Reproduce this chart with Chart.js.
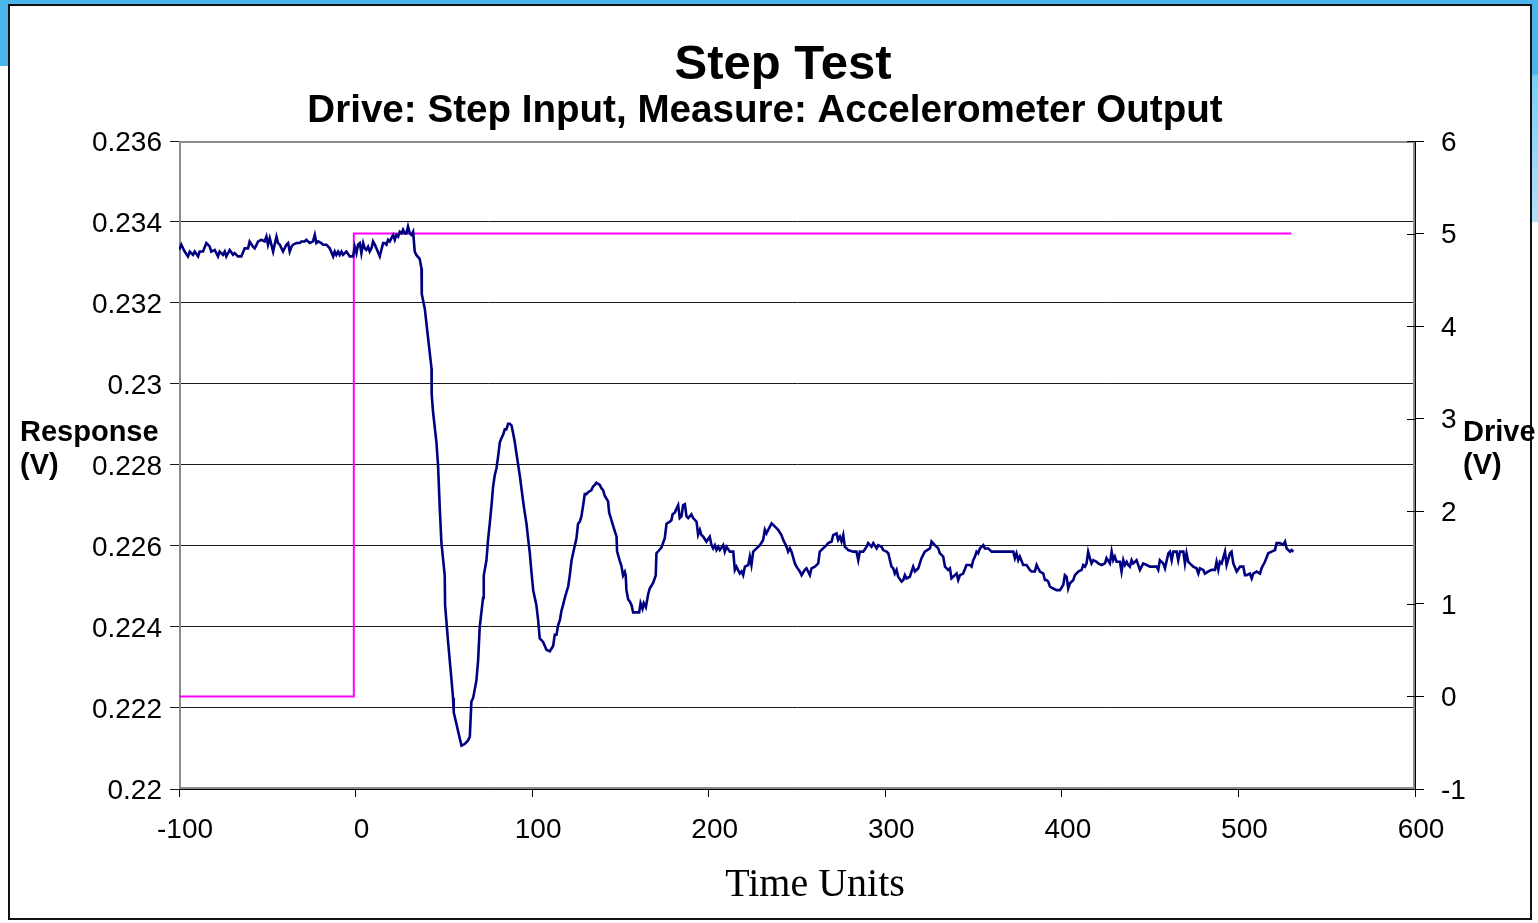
<!DOCTYPE html>
<html>
<head>
<meta charset="utf-8">
<script src="https://cdn.jsdelivr.net/npm/chart.js@4.4.1/dist/chart.umd.min.js"></script>
<style>
  html, body { margin: 0; padding: 0; background: #ffffff; width: 1538px; height: 923px; overflow: hidden; }
  .blue-top { position: absolute; left: 0; top: 0; width: 1538px; height: 5px; background: #4bb5ee; }
  .blue-left { position: absolute; left: 0; top: 0; width: 9px; height: 66px; background: #4bb5ee; }
  .blue-right { position: absolute; left: 1531px; top: 0; width: 7px; height: 222px;
    background: linear-gradient(#4bb5ee 0px, #4bb5ee 74px, #7ccbf5 76px, #b3e0fa 222px); }
  .frame { position: absolute; left: 8px; top: 4px; width: 1524px; height: 916px; box-sizing: border-box;
    border: 2px solid #111; background: #ffffff; }
  #c { position: absolute; left: 0; top: 0; }
</style>
</head>
<body>
<div class="blue-top"></div>
<div class="blue-left"></div>
<div class="blue-right"></div>
<div class="frame"></div>
<canvas id="c" width="1538" height="923"></canvas>
<script>
// ---- Data ----
const responseTime = [
  -100,-98.7,-96.8,-94.9,-93.9,-92.1,-91.1,-89.2,-88.3,-86.4,-84.5,-83.6,-82.6,-81.7,-79.8,-77.9,-77.0,-75.1,-74.1,-73.2,
  -71.3,-69.4,-68.5,-66.6,-64.7,-62.8,-60.9,-60.0,-58.1,-57.1,-55.2,-53.3,-51.5,-50.5,-49.6,-48.6,-46.7,-44.8,-43.9,-42.9,
  -41.1,-39.2,-38.2,-37.3,-36.3,-35.4,-33.5,-31.6,-30.7,-28.8,-27.9,-26.0,-24.1,-23.1,-22.2,-21.2,-19.4,-18.4,-16.5,-14.6,
  -12.7,-11.8,-10.9,-9.9,-9.0,-8.0,-7.1,-5.2,-3.3,-1.4,-0.5,0.5,1.4,2.4,3.3,4.3,5.2,6.1,7.1,8.0,
  9.0,9.9,10.9,11.8,13.7,14.6,15.6,16.5,17.5,18.4,19.4,20.3,21.3,22.2,23.1,24.1,25.0,26.0,26.9,27.9,
  28.8,29.7,30.7,31.6,32.6,
  33.5,34.5,36.3,37.3,37.5,39.2,41.1,43.0,43.1,43.9,45.8,46.7,47.7,48.6,50.5,50.7,52.4,54.3,55.2,55.6,
  57.1,59.0,60.0,61.8,63.7,64.7,65.6,66.6,68.4,69.4,70.3,72.2,72.6,74.1,75.1,76.0,77.0,77.9,78.8,79.8,
  80.7,81.7,82.6,83.6,84.5,85.4,86.4,87.3,88.3,89.2,90.2,91.1,92.1,93.0,94.9,95.8,96.8,97.7,98.7,99.6,
  100.6,101.5,102.4,103.4,104.3,106.2,108.1,110.0,111.9,112.8,113.8,114.7,115.7,116.6,117.5,118.5,120.4,121.3,122.3,123.2,
  124.1,125.1,126.0,127.0,127.9,128.9,129.8,130.8,131.7,133.6,134.5,135.5,136.4,138.3,139.3,140.2,141.1,143.0,143.6,144.9,
  146.8,147.8,148.1,149.6,150.6,151.5,152.5,153.0,153.4,154.4,155.3,156.3,157.2,159.1,160.6,161.4,162.5,163.2,164.4,165.7,
  166.6,168.5,170.0,170.4,171.4,173.2,175.1,176.1,178.0,178.9,179.5,180.8,182.7,183.6,184.6,185.5,186.5,187.4,188.4,190.2,
  191.2,193.1,194.0,
  195.0,195.9,196.9,198.7,200.6,201.6,202.5,203.5,204.4,205.4,206.3,208.2,209.1,210.1,212.0,213.9,214.8,215.7,217.6,218.6,
  219.5,220.5,222.4,223.3,224.2,225.2,227.1,229.0,230.8,231.8,232.7,233.7,235.6,236.5,238.4,239.3,241.2,242.2,243.1,244.1,
  245.0,246.0,246.9,248.8,249.7,251.6,252.6,254.4,255.4,257.3,258.2,260.1,262.0,262.9,264.8,266.7,267.7,269.6,270.5,272.4,
  273.3,274.3,275.2,276.2,277.1,278.1,279.0,281.8,283.7,284.7,285.6,287.5,289.4,290.3,292.2,293.2,295.1,296.0,297.9,298.8,
  300.7,301.7,303.5,304.5,305.4,306.4,307.3,309.2,310.2,311.1,312.0,313.9,315.8,316.8,318.7,320.5,322.4,325.3,326.2,328.1,
  330.0,330.9,332.8,333.8,335.6,336.6,337.5,339.4,340.4,341.3,342.3,344.1,346.0,347.9,348.9,349.8,350.8,351.7,352.6,353.6,
  355.5,356.4,358.3,360.2,
  372.5,373.4,374.3,375.3,376.2,378.1,380.0,381.9,382.8,384.7,385.7,386.6,387.6,389.5,390.4,391.3,392.3,393.2,395.1,397.0,
  398.9,400.8,401.7,402.7,403.6,404.6,406.5,407.4,409.3,411.2,412.1,413.1,414.0,414.9,415.9,416.8,417.8,419.7,420.6,422.5,
  424.4,425.3,427.2,428.2,429.1,430.0,431.0,432.9,433.8,434.8,435.7,436.7,437.6,438.5,439.5,440.4,441.4,442.3,444.2,446.1,
  448.0,449.9,453.7,454.6,455.5,457.4,458.4,460.3,461.2,462.2,463.1,465.0,465.9,466.9,468.8,469.7,470.6,471.6,472.5,474.4,
  476.3,477.3,478.2,480.1,481.0,482.9,484.8,486.7,487.6,488.6,489.5,490.5,492.4,493.3,495.2,496.1,497.1,499.0,500.9,502.8,
  503.7,504.6,506.5,507.5,508.4,510.3,512.2,513.1,515.0,516.9,518.8,520.7,521.6,523.5,525.4,526.4,527.3,529.2,530.1,531.1
];
const responseVolts = [
  0.23331,0.23344,0.23327,0.23315,0.23327,0.23319,0.23327,0.23315,0.23327,0.23327,0.23348,0.23344,0.23339,0.23327,0.23331,0.23315,0.23327,0.23319,0.23327,0.23315,
  0.23331,0.23319,0.23323,0.23315,0.23315,0.23335,0.23335,0.23352,0.23339,0.23335,0.23352,0.23356,0.23352,0.23364,0.23344,0.23360,0.23327,0.23364,0.23348,0.23344,
  0.23327,0.23344,0.23348,0.23327,0.23339,0.23344,0.23348,0.23348,0.23352,0.23352,0.23356,0.23348,0.23352,0.23368,0.23348,0.23352,0.23348,0.23344,0.23344,0.23335,
  0.23315,0.23327,0.23319,0.23327,0.23319,0.23327,0.23319,0.23327,0.23315,0.23315,0.23339,0.23323,0.23344,0.23348,0.23323,0.23348,0.23335,0.23331,0.23339,0.23327,
  0.23335,0.23352,0.23344,0.23335,0.23315,0.23331,0.23348,0.23348,0.23344,0.23356,0.23352,0.23360,0.23368,0.23356,0.23368,0.23364,0.23376,0.23372,0.23381,0.23372,
  0.23372,0.23389,0.23372,0.23368,0.23376,
  0.23327,0.23318,0.23309,0.23286,0.23222,0.23186,0.23112,0.23039,0.22975,0.22930,0.22856,0.22800,0.22692,0.22609,0.22527,0.22454,0.22363,0.22271,0.22225,0.22189,
  0.22161,0.22125,0.22107,0.22111,0.22120,0.22129,0.22216,0.22225,0.22267,0.22317,0.22399,0.22472,0.22527,0.22564,0.22619,0.22655,0.22701,0.22747,0.22774,0.22792,
  0.22820,0.22856,0.22866,0.22875,0.22888,0.22888,0.22902,0.22902,0.22898,0.22879,0.22856,0.22829,0.22800,0.22774,0.22710,0.22683,0.22655,0.22619,0.22582,0.22536,
  0.22491,0.22472,0.22454,0.22417,0.22372,0.22363,0.22344,0.22340,0.22353,0.22381,0.22381,0.22404,0.22417,0.22440,0.22454,0.22472,0.22500,0.22527,0.22564,0.22582,
  0.22600,0.22619,0.22655,0.22660,0.22673,0.22701,0.22728,0.22728,0.22733,0.22738,0.22747,0.22751,0.22756,0.22751,0.22742,0.22738,0.22724,0.22710,0.22683,0.22664,
  0.22637,0.22623,0.22587,0.22564,0.22550,0.22527,0.22536,0.22527,0.22491,0.22468,0.22463,0.22454,0.22436,0.22436,0.22436,0.22459,0.22445,0.22459,0.22449,0.22481,
  0.22495,0.22509,0.22527,0.22582,0.22587,0.22596,0.22619,0.22655,0.22660,0.22664,0.22678,0.22683,0.22701,0.22669,0.22673,0.22701,0.22703,0.22673,0.22669,0.22678,
  0.22669,0.22660,0.22628,
  0.22640,0.22627,0.22623,0.22611,0.22623,0.22602,0.22594,0.22602,0.22590,0.22598,0.22590,0.22602,0.22586,0.22598,0.22586,0.22586,0.22541,0.22549,0.22532,0.22537,
  0.22528,0.22549,0.22553,0.22574,0.22553,0.22586,0.22594,0.22602,0.22615,0.22640,0.22631,0.22640,0.22656,0.22652,0.22644,0.22640,0.22627,0.22615,0.22607,0.22598,
  0.22586,0.22594,0.22586,0.22557,0.22549,0.22537,0.22528,0.22541,0.22545,0.22528,0.22545,0.22549,0.22557,0.22586,0.22594,0.22602,0.22607,0.22611,0.22627,0.22631,
  0.22615,0.22623,0.22611,0.22627,0.22598,0.22594,0.22590,0.22586,0.22586,0.22565,0.22586,0.22586,0.22598,0.22607,0.22598,0.22607,0.22594,0.22602,0.22598,0.22590,
  0.22586,0.22582,0.22549,0.22545,0.22532,0.22541,0.22524,0.22512,0.22516,0.22528,0.22520,0.22524,0.22549,0.22537,0.22545,0.22570,0.22586,0.22594,0.22611,0.22602,
  0.22594,0.22582,0.22574,0.22549,0.22541,0.22545,0.22520,0.22528,0.22532,0.22516,0.22528,0.22532,0.22553,0.22553,0.22549,0.22565,0.22574,0.22586,0.22582,0.22594,
  0.22602,0.22594,0.22594,0.22586,
  0.22586,0.22570,0.22582,0.22565,0.22574,0.22553,0.22553,0.22541,0.22537,0.22537,0.22553,0.22545,0.22537,0.22532,0.22516,0.22516,0.22512,0.22500,0.22495,0.22491,
  0.22491,0.22504,0.22528,0.22524,0.22495,0.22508,0.22516,0.22528,0.22537,0.22541,0.22553,0.22549,0.22557,0.22586,0.22570,0.22557,0.22565,0.22561,0.22557,0.22553,
  0.22557,0.22570,0.22557,0.22586,0.22565,0.22574,0.22561,0.22561,0.22537,0.22565,0.22553,0.22561,0.22553,0.22549,0.22565,0.22557,0.22561,0.22565,0.22541,0.22557,
  0.22553,0.22549,0.22549,0.22541,0.22565,0.22557,0.22545,0.22582,0.22586,0.22565,0.22586,0.22586,0.22565,0.22586,0.22586,0.22557,0.22582,0.22561,0.22557,0.22549,
  0.22545,0.22532,0.22545,0.22541,0.22532,0.22537,0.22541,0.22541,0.22561,0.22541,0.22561,0.22557,0.22586,0.22553,0.22582,0.22586,0.22557,0.22537,0.22549,0.22549,
  0.22528,0.22528,0.22532,0.22520,0.22532,0.22537,0.22532,0.22545,0.22561,0.22582,0.22586,0.22590,0.22607,0.22607,0.22603,0.22611,0.22594,0.22586,0.22590,0.22586
];
const driveTime  = [-100, -1, -1, 530];
const driveVolts = [0, 0, 5, 5];

const xTickValues     = [-100, 0, 100, 200, 300, 400, 500, 600];
const leftTickValues  = [0.22, 0.222, 0.224, 0.226, 0.228, 0.23, 0.232, 0.234, 0.236];
const leftTickLabels  = ['0.22', '0.222', '0.224', '0.226', '0.228', '0.23', '0.232', '0.234', '0.236'];
const rightTickValues = [-1, 0, 1, 2, 3, 4, 5, 6];

const titleText    = 'Step Test';
const subtitleText = 'Drive: Step Input, Measure: Accelerometer Output';
const leftAxisTitle  = ['Response', '(V)'];
const rightAxisTitle = ['Drive', '(V)'];
const xAxisTitle = 'Time Units';

// ---- Chart ----
const SANS = '"Liberation Sans", Arial, sans-serif';
const SERIF = '"Liberation Serif", "Times New Roman", serif';

const toPoints = (xs, ys) => xs.map((x, i) => ({ x: x, y: ys[i] }));
const setTicks = values => scale => { scale.ticks = values.map(v => ({ value: v })); };

const framePlugin = {
  id: 'frame',
  beforeDatasetsDraw(chart) {
    const { ctx, chartArea: a } = chart;
    ctx.save();
    ctx.strokeStyle = '#8c8c8c';
    ctx.lineWidth = 2;
    ctx.strokeRect(a.left + 1, a.top + 1, a.right - a.left - 2, a.bottom - a.top - 2);
    ctx.restore();
  },
  afterDraw(chart) {
    const { ctx, chartArea: a } = chart;
    const y2 = chart.scales.y2;
    ctx.save();
    // inner part of the right-axis cross ticks
    ctx.strokeStyle = '#000';
    ctx.lineWidth = 1;
    rightTickValues.forEach(v => {
      const py = Math.round(y2.getPixelForValue(v)) + 0.5;
      ctx.beginPath();
      ctx.moveTo(a.right - 8, py);
      ctx.lineTo(a.right, py);
      ctx.stroke();
    });
    ctx.fillStyle = '#000';
    ctx.textBaseline = 'alphabetic';
    // titles
    ctx.textAlign = 'center';
    ctx.font = 'bold 49px ' + SANS;
    ctx.fillText(titleText, 783, 79);
    ctx.font = 'bold 38.6px ' + SANS;
    ctx.fillText(subtitleText, 765, 122);
    // axis titles
    ctx.textAlign = 'left';
    ctx.font = 'bold 29px ' + SANS;
    ctx.fillText(leftAxisTitle[0], 20, 441);
    ctx.fillText(leftAxisTitle[1], 20, 474);
    ctx.fillText(rightAxisTitle[0], 1463, 441);
    ctx.fillText(rightAxisTitle[1], 1463, 474);
    ctx.textAlign = 'center';
    ctx.font = '40px ' + SERIF;
    ctx.fillText(xAxisTitle, 815, 896);
    ctx.restore();
  }
};

new Chart(document.getElementById('c'), {
  type: 'line',
  data: {
    datasets: [
      {
        label: 'Response',
        data: toPoints(responseTime, responseVolts),
        borderColor: '#000080',
        borderWidth: 2.6,
        pointRadius: 0,
        tension: 0,
        yAxisID: 'y'
      },
      {
        label: 'Drive',
        data: toPoints(driveTime, driveVolts),
        borderColor: '#ff00ff',
        borderWidth: 2,
        pointRadius: 0,
        tension: 0,
        yAxisID: 'y2'
      }
    ]
  },
  options: {
    responsive: false,
    animation: false,
    devicePixelRatio: 1,
    layout: { padding: { top: 141, left: 0, right: 0, bottom: 0 } },
    plugins: { legend: { display: false }, tooltip: { enabled: false }, title: { display: false } },
    scales: {
      x: {
        type: 'linear',
        position: 'bottom',
        min: -100, max: 600,
        afterBuildTicks: setTicks(xTickValues),
        afterFit: s => { s.height = 134; },
        grid: { display: true, drawOnChartArea: false, drawTicks: true, tickLength: 8, color: '#000', lineWidth: 1 },
        border: { display: true, color: '#000', width: 1 },
        ticks: { color: '#000', font: { family: SANS, size: 28 }, padding: 16, labelOffset: 6, maxRotation: 0, autoSkip: false }
      },
      y: {
        type: 'linear',
        position: 'left',
        min: 0.22, max: 0.236,
        afterBuildTicks: setTicks(leftTickValues),
        afterFit: s => { s.width = 179; },
        grid: { display: true, drawOnChartArea: true, drawTicks: true, tickLength: 9, color: '#1a1a1a', lineWidth: 1 },
        border: { display: true, color: '#000', width: 1 },
        ticks: {
          color: '#000', font: { family: SANS, size: 28 }, padding: 8, labelOffset: 2, autoSkip: false,
          callback: (v) => { const i = leftTickValues.findIndex(t => Math.abs(t - v) < 1e-9); return i >= 0 ? leftTickLabels[i] : ''; }
        }
      },
      y2: {
        type: 'linear',
        position: 'right',
        min: -1, max: 6,
        afterBuildTicks: setTicks(rightTickValues),
        afterFit: s => { s.width = 123; },
        grid: { display: true, drawOnChartArea: false, drawTicks: true, tickLength: 9, color: '#000', lineWidth: 1 },
        border: { display: true, color: '#000', width: 1 },
        ticks: { color: '#000', font: { family: SANS, size: 28 }, padding: 17, labelOffset: 2, autoSkip: false }
      }
    }
  },
  plugins: [framePlugin]
});
</script>
</body>
</html>
